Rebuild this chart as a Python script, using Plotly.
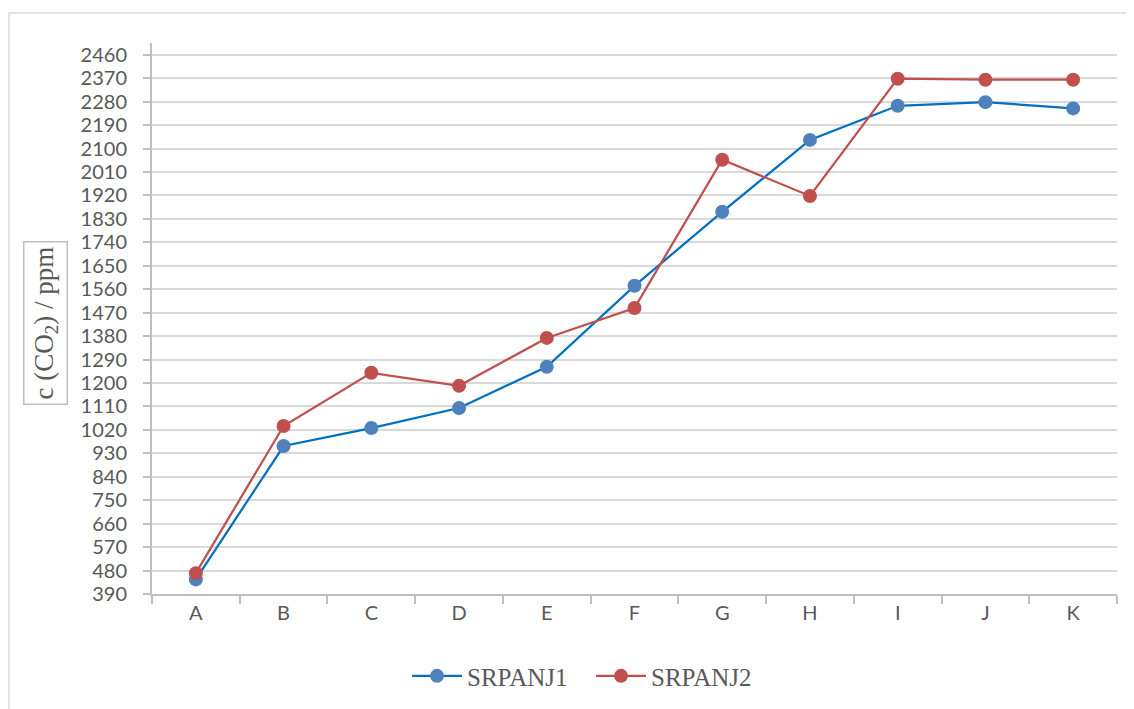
import plotly.graph_objects as go

categories = ["A", "B", "C", "D", "E", "F", "G", "H", "I", "J", "K"]
srpanj1 = [446, 958, 1027, 1104, 1262, 1573, 1857, 2133, 2264, 2278, 2254]
srpanj2 = [470, 1035, 1239, 1189, 1373, 1488, 2057, 1918, 2368, 2364, 2364]
y_ticks = list(range(390, 2461, 90))

grey_text = "#595959"
axis_grey = "#bfbfbf"

fig = go.Figure()

fig.add_trace(go.Scatter(
    x=categories, y=srpanj1, name="SRPANJ1", mode="lines+markers",
    line=dict(color="#0070C0", width=2.25),
    marker=dict(color="#4F81BD", size=14),
))
fig.add_trace(go.Scatter(
    x=categories, y=srpanj2, name="SRPANJ2", mode="lines+markers",
    line=dict(color="#C0504D", width=2.25),
    marker=dict(color="#C0504D", size=14),
))

item_w = 50

# page body adds 8px on top/left, so margins are shifted by that
fig.update_layout(
    width=1134, height=709,
    margin=dict(l=144, r=25, t=35, b=123),
    paper_bgcolor="white", plot_bgcolor="white",
    showlegend=True,
    legend=dict(orientation="h", x=(407 - 152) / 965, xanchor="left", y=-0.149, yanchor="middle",
                font=dict(family="Liberation Serif", size=25, color=grey_text),
                itemwidth=item_w,
                entrywidth=185 - (item_w + 16), entrywidthmode="pixels", tracegroupgap=0),
    font=dict(family="Lato", color=grey_text),
)

fig.update_xaxes(
    type="category", range=[-0.5, 10.5],
    showline=True, linecolor=axis_grey, linewidth=2,
    ticks="outside", tickson="boundaries", ticklen=8, tickcolor=axis_grey, tickwidth=2,
    showgrid=False,
    tickfont=dict(family="Lato", size=20, color=grey_text),
)
fig.update_yaxes(
    range=[390, 2505], tickvals=y_ticks,
    showline=True, linecolor=axis_grey, linewidth=2,
    ticks="outside", ticklen=7, tickcolor=axis_grey, tickwidth=2,
    ticklabelstandoff=12,
    showgrid=True, gridcolor="#d9d9d9", gridwidth=1.5,
    zeroline=False,
    tickfont=dict(family="Lato", size=20, color=grey_text),
)

# axis title in a framed box
fig.add_annotation(
    xref="paper", yref="paper", x=(45 - 152) / 965, y=(594 - 323) / 551,
    xanchor="center", yanchor="middle",
    text="c (CO<sub>2</sub>) / ppm", textangle=-90, showarrow=False,
    font=dict(family="Liberation Serif", size=27, color=grey_text),
    bordercolor="#bfbfbf", borderwidth=1.5, borderpad=4, bgcolor="white",
)

# chart frame
fig.add_shape(
    type="rect", xref="paper", yref="paper",
    x0=(9 - 152) / 965, x1=(1145 - 152) / 965,
    y0=(594 - 715) / 551, y1=(594 - 13) / 551,
    line=dict(color="#d9d9d9", width=1.5), layer="below",
)

fig.write_html("out.html")
